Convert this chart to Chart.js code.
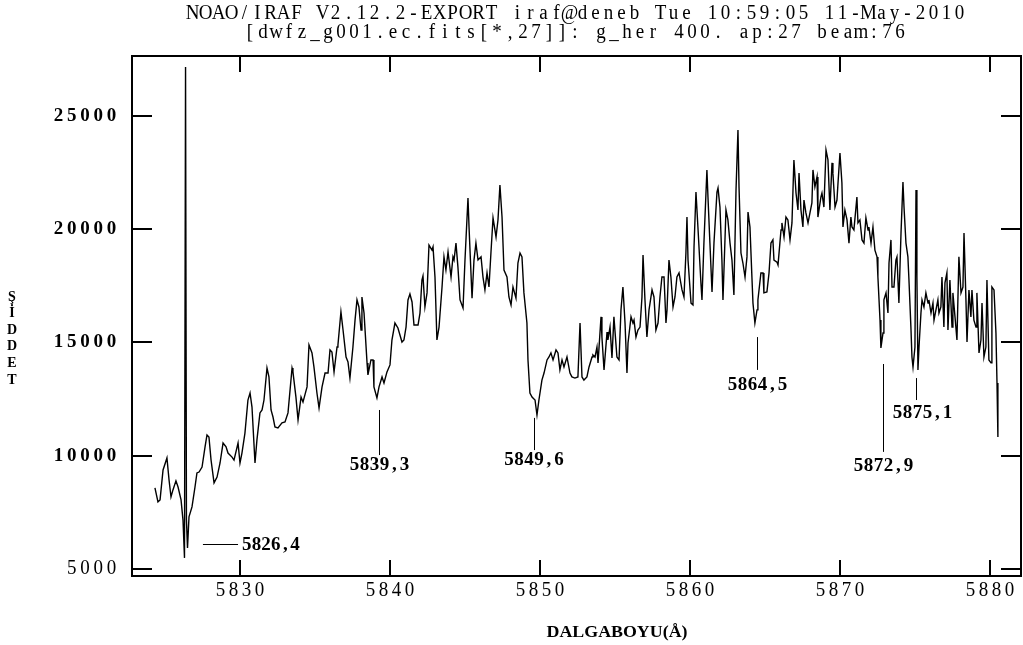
<!DOCTYPE html>
<html>
<head>
<meta charset="utf-8">
<title>g_her 400 spektrum</title>
<script src="https://cdn.jsdelivr.net/npm/chart.js@4.4.1/dist/chart.umd.min.js"></script>
<style>
  html, body { margin: 0; padding: 0; background: #fff; }
  canvas { display: block; }
</style>
</head>
<body>
<canvas id="spectrum" width="1023" height="645"></canvas>
<script>
// spectrum (wavelength in Å, intensity in counts)
const wavelength = [
  5824.33,5824.53,5824.67,5824.87,5825.13,5825.27,5825.40,5825.53,5825.73,5825.87,
  5826.07,5826.20,5826.30,5826.37,5826.43,5826.50,5826.60,5826.80,5827.00,5827.13,
  5827.27,5827.47,5827.67,5827.80,5827.93,5828.07,5828.27,5828.47,5828.67,5828.87,
  5829.07,5829.20,5829.47,5829.60,5829.87,5830.00,5830.13,5830.33,5830.53,5830.67,
  5830.80,5831.00,5831.13,5831.33,5831.47,5831.60,5831.80,5831.93,5832.07,5832.20,
  5832.33,5832.53,5832.80,5833.00,5833.20,5833.47,5833.53,5833.73,5833.87,5834.07,
  5834.20,5834.47,5834.60,5834.80,5834.93,5835.13,5835.27,5835.47,5835.67,5835.87,
  5836.00,5836.13,5836.27,5836.47,5836.53,5836.73,5836.87,5837.07,5837.20,5837.33,
  5837.53,5837.67,5837.80,5837.93,5838.07,5838.13,5838.27,5838.47,5838.53,5838.73,
  5838.87,5838.93,5839.13,5839.27,5839.47,5839.60,5839.80,5840.00,5840.13,5840.33,
  5840.53,5840.80,5840.93,5841.07,5841.20,5841.33,5841.47,5841.60,5841.87,5842.00,
  5842.13,5842.20,5842.33,5842.47,5842.60,5842.80,5842.87,5843.00,5843.13,5843.27,
  5843.47,5843.60,5843.73,5843.87,5844.07,5844.20,5844.27,5844.40,5844.53,5844.67,
  5844.87,5845.00,5845.20,5845.27,5845.47,5845.60,5845.73,5845.87,5846.07,5846.20,
  5846.33,5846.47,5846.60,5846.73,5846.87,5847.07,5847.20,5847.33,5847.47,5847.60,
  5847.80,5847.93,5848.07,5848.20,5848.40,5848.53,5848.67,5848.80,5848.93,5849.13,
  5849.20,5849.33,5849.47,5849.67,5849.80,5849.93,5850.13,5850.27,5850.47,5850.60,
  5850.73,5850.87,5851.07,5851.20,5851.33,5851.47,5851.60,5851.80,5852.00,5852.13,
  5852.33,5852.53,5852.67,5852.80,5852.93,5853.13,5853.27,5853.47,5853.53,5853.67,
  5853.80,5853.87,5854.07,5854.13,5854.27,5854.47,5854.53,5854.67,5854.80,5854.93,
  5855.13,5855.27,5855.40,5855.53,5855.67,5855.80,5855.87,5856.07,5856.20,5856.27,
  5856.40,5856.53,5856.67,5856.80,5856.87,5857.00,5857.13,5857.27,5857.47,5857.60,
  5857.73,5857.87,5858.00,5858.13,5858.27,5858.40,5858.47,5858.60,5858.73,5858.87,
  5859.00,5859.13,5859.27,5859.47,5859.60,5859.73,5859.80,5859.87,5860.07,5860.20,
  5860.27,5860.40,5860.53,5860.73,5860.80,5860.93,5861.13,5861.20,5861.33,5861.47,
  5861.60,5861.80,5861.87,5862.00,5862.13,5862.20,5862.40,5862.53,5862.67,5862.80,
  5862.93,5863.07,5863.20,5863.27,5863.40,5863.53,5863.67,5863.80,5863.87,5864.00,
  5864.13,5864.20,5864.33,5864.47,5864.53,5864.73,5864.87,5864.93,5865.13,5865.27,
  5865.40,5865.53,5865.60,5865.80,5865.87,5866.07,5866.13,5866.27,5866.40,5866.53,
  5866.67,5866.80,5866.93,5867.07,5867.20,5867.27,5867.40,5867.53,5867.60,5867.73,
  5867.87,5868.00,5868.13,5868.20,5868.33,5868.47,5868.53,5868.73,5868.80,5868.93,
  5869.07,5869.20,5869.33,5869.47,5869.53,5869.67,5869.80,5869.87,5870.00,5870.13,
  5870.20,5870.33,5870.47,5870.60,5870.73,5870.80,5870.93,5871.13,5871.20,5871.33,
  5871.47,5871.60,5871.73,5871.87,5871.93,5872.07,5872.20,5872.33,5872.47,5872.53,
  5872.67,5872.73,5872.87,5872.93,5873.07,5873.20,5873.27,5873.40,5873.47,5873.60,
  5873.73,5873.80,5873.93,5874.07,5874.20,5874.27,5874.40,5874.53,5874.60,5874.73,
  5874.80,5874.87,5875.00,5875.07,5875.13,5875.20,5875.27,5875.40,5875.47,5875.60,
  5875.73,5875.87,5875.93,5876.07,5876.20,5876.27,5876.40,5876.53,5876.60,5876.73,
  5876.80,5876.93,5877.00,5877.13,5877.20,5877.33,5877.47,5877.53,5877.67,5877.80,
  5877.93,5878.07,5878.20,5878.27,5878.40,5878.47,5878.60,5878.73,5878.80,5878.93,
  5879.07,5879.13,5879.27,5879.40,5879.47,5879.60,5879.73,5879.80,5879.93,5880.07,
  5880.13,5880.27,5880.40,5880.47,5880.53
];
const intensity = [
  8580,7960,8050,9370,9900,8930,8180,8490,8890,8620,
  8050,7160,5490,27160,7160,5930,7300,7740,8620,9240,
  9280,9500,10390,10920,10830,9810,8800,9060,9680,10560,
  10390,10120,9940,9810,10560,9680,10120,11000,12460,12770,
  12150,9680,10700,11890,12020,12460,13870,13480,12020,11710,
  11270,11230,11450,11490,11890,13870,13700,12590,11580,12590,
  12370,13040,14890,14540,13920,12770,12110,13040,13650,13650,
  14670,14580,13700,14800,14890,16350,15550,14360,14140,13430,
  14800,15990,16880,16570,15550,17010,16300,14100,13570,14230,
  14230,13040,12550,13040,13480,13210,13700,14010,15110,15860,
  15640,15020,15110,15680,16880,17140,16790,15770,15770,16300,
  17760,17940,16570,17190,19300,19080,19220,17890,15110,15680,
  17450,18780,18200,19000,17890,18780,18640,19390,18330,16880,
  16520,18640,21380,20100,16960,18640,19390,18640,18780,17890,
  17320,18070,17450,18950,20500,19660,20410,21950,20540,18200,
  17890,17010,16660,17450,16960,18510,18950,18780,17190,15860,
  14230,12770,12590,12460,11800,12460,13340,13650,14230,14360,
  14540,14230,14670,14540,13790,14230,13920,14360,13650,13480,
  13430,13480,15860,13480,13340,13480,13920,14360,14450,14360,
  14800,14100,16130,15240,13790,15460,15110,15680,14320,16130,
  14360,14230,16440,17450,15860,13650,14980,16130,15860,15990,
  15240,15550,15680,17010,18860,16880,15240,16440,17320,17010,
  15550,15860,17010,17890,17890,15860,16440,18640,17890,16570,
  17010,17890,18070,17320,17010,18950,20540,18640,16740,16660,
  19220,21640,20100,17630,16880,19390,22620,21420,19390,17230,
  19390,21640,21820,20980,18640,16880,20850,20410,19390,18640,
  17100,21730,24380,21870,18950,18510,17890,18780,20760,20100,
  17890,16740,15860,16440,16880,18070,18070,17190,17230,18070,
  19390,19530,18640,18550,18420,19970,20280,19660,20540,20410,
  19530,20280,23060,21600,20850,22480,20850,20100,21290,20720,
  20280,20720,21160,22620,21870,22310,20540,21420,21600,20980,
  23500,23060,20850,22930,22480,20980,21290,22040,23370,22040,
  20100,20850,20410,19390,20540,20100,19970,21420,20280,20410,
  19530,19390,20500,19970,20100,19390,20100,19080,18780,17890,
  15990,14760,15420,16880,17190,16300,18510,19530,17450,17450,
  18640,18780,16740,19830,22090,20980,19390,18780,17760,15680,
  14360,13920,14800,21730,17890,13790,14800,16300,16880,16570,
  17190,16740,16880,16300,16740,15990,16440,16880,16300,16570,
  17890,15680,17630,18070,15550,17760,15680,17190,16130,15110,
  18780,17190,17450,19830,16880,15020,17320,16130,17320,15990,
  15680,17190,14540,15110,16740,14360,14800,17760,14230,14100,
  17450,17320,15420,13210,10830
];

const xTicks = [5830, 5840, 5850, 5860, 5870, 5880];
const yTicks = [5000, 10000, 15000, 20000, 25000];

// marked absorption lines: wavelength, marker top/bottom (counts), label
const markWave = [5839.3, 5849.6, 5864.5, 5872.9, 5875.1];
const markTop = [12020, 11670, 15240, 14050, 13430];
const markBottom = [10030, 10250, 13790, 10170, 12460];
const markTextWave = [5839.3, 5849.6, 5864.5, 5872.9, 5875.5];
const markTextY = [9590, 9810, 13120, 9550, 11890];
const markText = ["5839,3", "5849,6", "5864,5", "5872,9", "5875,1"];

// 5826,4 is marked with a horizontal leader instead
const sideMark = { from: 5827.53, to: 5829.87, y: 6100, textAt: 5830.13, text: "5826,4" };

const titleLines = [
  "NOAO/IRAF V2.12.2-EXPORT iraf@deneb Tue 10:59:05 11-May-2010",
  "[dwfz_g001.ec.fits[*,27]]: g_her 400. ap:27 beam:76"
];
const xTitle = "DALGABOYU(Å)";
const yTitle = ["Ş", "İ", "D", "D", "E", "T"];

// text laid out in fixed cells, like the IRAF plot font
function cellText(ctx, text, cx, cy, width, squeeze) {
  const chars = [...text];
  const cell = width / chars.length;
  const start = cx - width / 2;
  ctx.textAlign = "center";
  ctx.textBaseline = "middle";
  chars.forEach((ch, i) => {
    ctx.save();
    ctx.translate(start + cell * (i + 0.5), cy);
    ctx.scale(squeeze || 1, 1);
    ctx.fillText(ch, 0, 0);
    ctx.restore();
  });
}

function fitText(ctx, text, cx, cy, width) {
  const w = ctx.measureText(text).width;
  ctx.save();
  ctx.translate(cx, cy);
  ctx.scale(width / w, 1);
  ctx.textAlign = "center";
  ctx.textBaseline = "middle";
  ctx.fillText(text, 0, 0);
  ctx.restore();
}

const irafFrame = {
  id: "irafFrame",
  afterDraw(chart) {
    const { ctx, chartArea: a, scales: { x, y } } = chart;
    ctx.save();
    ctx.strokeStyle = "#000";
    ctx.fillStyle = "#000";

    // box + inward ticks on all sides
    ctx.lineWidth = 2;
    ctx.strokeRect(a.left, a.top, a.right - a.left, a.bottom - a.top);
    ctx.beginPath();
    xTicks.forEach(v => {
      const px = Math.round(x.getPixelForValue(v));
      ctx.moveTo(px, a.bottom); ctx.lineTo(px, a.bottom - 16);
      ctx.moveTo(px, a.top); ctx.lineTo(px, a.top + 16);
    });
    yTicks.forEach(v => {
      const py = Math.round(y.getPixelForValue(v));
      ctx.moveTo(a.left, py); ctx.lineTo(a.left + 20, py);
      ctx.moveTo(a.right, py); ctx.lineTo(a.right - 20, py);
    });
    ctx.stroke();

    // tick labels
    ctx.font = '20px "Liberation Serif"';
    xTicks.forEach(v => cellText(ctx, String(v), x.getPixelForValue(v), a.bottom + 15, 52, 0.95));
    yTicks.forEach(v => {
      const s = String(v);
      const w = s.length * 13.2;
      ctx.font = v === 5000 ? '20px "Liberation Serif"' : 'bold 19px "Liberation Serif"';
      cellText(ctx, s, a.left - 14 - w / 2, y.getPixelForValue(v), w, v === 5000 ? 0.95 : 1);
    });

    // titles
    ctx.font = '20px "Liberation Serif"';
    cellText(ctx, titleLines[0], 576, 14, 780, 0.95);
    cellText(ctx, titleLines[1], 575, 33, 663, 0.95);
    ctx.font = 'bold 16px "Liberation Serif"';
    fitText(ctx, xTitle, 617, 633, 141);
    ctx.font = 'bold 14px "Liberation Serif"';
    ctx.textAlign = "center";
    ctx.textBaseline = "middle";
    yTitle.forEach((ch, i) => ctx.fillText(ch, 12, 297 + i * 16.6));

    // line markers
    ctx.lineWidth = 1;
    ctx.beginPath();
    markWave.forEach((w, i) => {
      const px = Math.round(x.getPixelForValue(w)) + 0.5;
      ctx.moveTo(px, y.getPixelForValue(markTop[i]));
      ctx.lineTo(px, y.getPixelForValue(markBottom[i]));
    });
    const sy = Math.round(y.getPixelForValue(sideMark.y)) + 0.5;
    ctx.moveTo(x.getPixelForValue(sideMark.from), sy);
    ctx.lineTo(x.getPixelForValue(sideMark.to), sy);
    ctx.stroke();

    ctx.font = 'bold 19px "Liberation Serif"';
    markText.forEach((t, i) => {
      cellText(ctx, t, x.getPixelForValue(markTextWave[i]), y.getPixelForValue(markTextY[i]), 60, 1);
    });
    cellText(ctx, sideMark.text, x.getPixelForValue(sideMark.textAt) + 29, sy + 1, 58, 1);
    ctx.restore();
  }
};

new Chart(document.getElementById("spectrum"), {
  type: "line",
  data: {
    datasets: [{
      label: "g_her 400",
      data: wavelength.map((w, i) => ({ x: w, y: intensity[i] })),
      borderColor: "#000",
      borderWidth: 1.4,
      pointRadius: 0,
      tension: 0,
      fill: false
    }]
  },
  options: {
    responsive: false,
    animation: false,
    layout: { padding: { left: 132, right: 2, top: 56, bottom: 69 } },
    scales: {
      x: { type: "linear", min: 5822.8, max: 5882.07, display: false },
      y: { type: "linear", min: 4690, max: 27650, display: false }
    },
    plugins: {
      legend: { display: false },
      tooltip: { enabled: false }
    }
  },
  plugins: [irafFrame]
});
</script>
</body>
</html>
